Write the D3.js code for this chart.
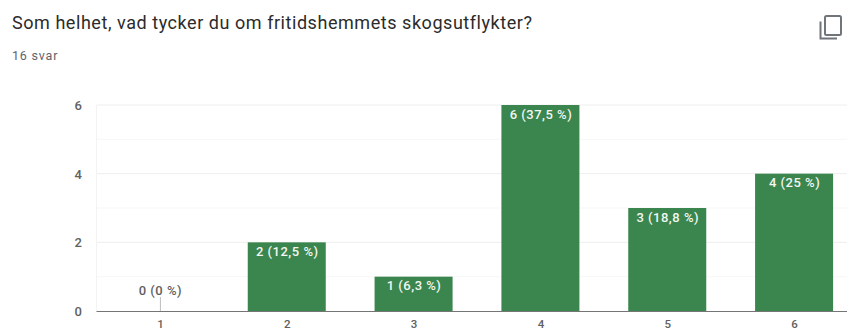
<!DOCTYPE html>
<html>
<head>
<meta charset="utf-8">
<script src="https://cdn.jsdelivr.net/npm/d3@7/dist/d3.min.js"></script>
<style>
html, body { margin: 0; padding: 0; background: #fff; overflow: hidden; }
svg { display: block; font-family: Roboto, sans-serif; }
</style>
</head>
<body>
<svg id="chart" width="847" height="331"></svg>
<script>
const titleText = "Som helhet, vad tycker du om fritidshemmets skogsutflykter?";
const subtitleText = "16 svar";
const categories = ["1", "2", "3", "4", "5", "6"];
const counts = [0, 2, 1, 6, 3, 4];
const valueLabels = ["0 (0 %)", "2 (12,5 %)", "1 (6,3 %)", "6 (37,5 %)", "3 (18,8 %)", "4 (25 %)"];
const yTicks = [0, 2, 4, 6];
const yGrid = [1, 2, 3, 4, 5, 6];

const svg = d3.select("#chart");
const plot = { left: 96.5, right: 857.5, top: 105, bottom: 311 };

const x = d3.scaleBand().domain(categories).range([plot.left, plot.right]).paddingInner(0.385).paddingOuter(0.1925);
const y = d3.scaleLinear().domain([0, 6]).range([plot.bottom, plot.top]);

svg.append("text").attr("x", 12).attr("y", 28.5)
  .attr("font-size", 18).attr("letter-spacing", 0.55).attr("fill", "#2b2b2b").text(titleText);
svg.append("text").attr("x", 12).attr("y", 60)
  .attr("font-size", 12.5).attr("letter-spacing", 0.8).attr("fill", "#5f6368").text(subtitleText);

// Copy icon in the top-right corner
const icon = svg.append("g").attr("fill", "none").attr("stroke", "#70757a").attr("stroke-width", 2);
icon.append("rect").attr("x", 825).attr("y", 16).attr("width", 16).attr("height", 19).attr("rx", 1.5);
icon.append("path").attr("d", "M820.5 21.5V38.5H837");

// Gridlines
svg.append("g").selectAll("line").data(yGrid).join("line")
  .attr("x1", plot.left).attr("x2", 847)
  .attr("y1", d => y(d)).attr("y2", d => y(d))
  .attr("stroke", d => d % 2 === 0 ? "#eeeeee" : "#f7f7f7").attr("stroke-width", 1);
svg.append("line")
  .attr("x1", plot.left).attr("x2", plot.left)
  .attr("y1", plot.top).attr("y2", plot.bottom)
  .attr("stroke", "#f3f3f3");

// Bars
svg.append("g").selectAll("rect").data(categories).join("rect")
  .attr("x", d => x(d)).attr("width", x.bandwidth())
  .attr("y", (d, i) => y(counts[i]))
  .attr("height", (d, i) => y(0) - y(counts[i]))
  .attr("fill", "#3b854e");

// Stem marking a zero-height bar
svg.append("g").selectAll("line").data(categories.filter((d, i) => counts[i] === 0)).join("line")
  .attr("x1", d => x(d) + x.bandwidth() / 2 + 0.5).attr("x2", d => x(d) + x.bandwidth() / 2 + 0.5)
  .attr("y1", 297).attr("y2", plot.bottom)
  .attr("stroke", "#bdbdbd");

// Value labels: inside the bar, or above the baseline when the bar is empty
svg.append("g").selectAll("text").data(categories).join("text")
  .attr("x", d => x(d) + x.bandwidth() / 2 + 0.5)
  .attr("y", (d, i) => counts[i] === 0 ? y(0) - 16 : y(counts[i]) + 13.5)
  .attr("text-anchor", "middle").attr("font-size", 13).attr("letter-spacing", 0.5).attr("font-weight", 500)
  .attr("fill", (d, i) => counts[i] === 0 ? "#616161" : "#f2f7f3")
  .text((d, i) => valueLabels[i]);

// Baseline
svg.append("line")
  .attr("x1", plot.left).attr("x2", 847)
  .attr("y1", plot.bottom + 0.5).attr("y2", plot.bottom + 0.5)
  .attr("stroke", "#757575").attr("stroke-width", 1);

// Axis labels
svg.append("g").selectAll("text").data(yTicks).join("text")
  .attr("x", 82).attr("y", d => y(d) + 5)
  .attr("text-anchor", "end").attr("font-size", 13).attr("font-weight", 500)
  .attr("fill", "#616161").text(d => d);
svg.append("g").selectAll("text").data(categories).join("text")
  .attr("x", d => x(d) + x.bandwidth() / 2 + 0.5).attr("y", 328)
  .attr("text-anchor", "middle").attr("font-size", 11.5).attr("font-weight", 500)
  .attr("fill", "#616161").text(d => d);
</script>
</body>
</html>
